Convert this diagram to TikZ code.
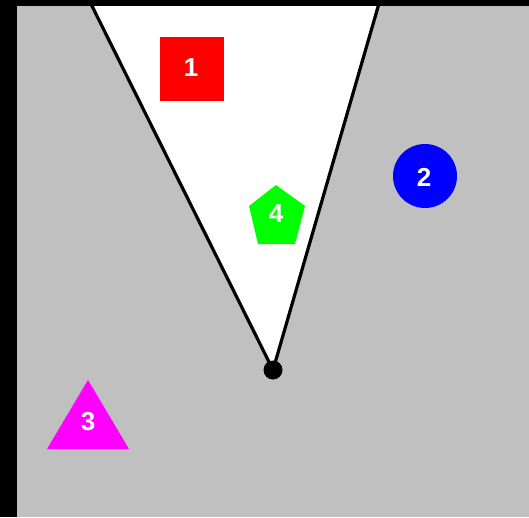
\documentclass[tikz,border=0pt]{standalone}
\usepackage{fontspec}
\setmainfont{Liberation Sans}
\usepackage{xcolor}
\definecolor{bggray}{RGB}{192,192,192}
\definecolor{objred}{RGB}{255,0,0}
\definecolor{objblue}{RGB}{0,0,255}
\definecolor{objgreen}{RGB}{0,255,0}
\definecolor{objmagenta}{RGB}{255,0,255}
\tikzset{
  digit/.style={text=white, font=\fontsize{26}{30}\selectfont\bfseries, inner sep=0pt}
}

\begin{document}
\begin{tikzpicture}[x=1pt, y=-1pt]
    \useasboundingbox (0,0) rectangle (529,517);

    % frame and gray floor
    \fill[black] (0,0) rectangle (529,517);
    \fill[bggray] (17,6) rectangle (529,517);

    \begin{scope}
    \clip (17,6) rectangle (529,517);
    % field of view (white cone)
    \fill[white] (91,6) -- (378,6) -- (273,370) -- cycle;
    \draw[line width=3.2pt] (273,370) -- (89,0);
    \draw[line width=3.2pt] (273,370) -- (380,0);
    \end{scope}

    % viewer at the apex
    \fill[black] (273,370) circle (9.5);

    % object 1 (square)
    \fill[objred] (160,37) rectangle (224,101);
    \node[digit] (lab1) at (191,68) {1};

    % object 2 (circle)
    \fill[objblue] (425,176) circle (32);
    \node[digit] (lab2) at (424,177) {2};

    % object 3 (triangle)
    \fill[objmagenta] (88,380) -- (129,449) -- (47,449) -- cycle;
    \node[digit] (lab3) at (88,422) {3};

    % object 4 (pentagon)
    \fill[objgreen] (276,185) -- (305,206) -- (295,244) -- (258,244) -- (249,206) -- cycle;
    \node[digit] (lab4) at (276,214) {4};

\end{tikzpicture}
\end{document}
